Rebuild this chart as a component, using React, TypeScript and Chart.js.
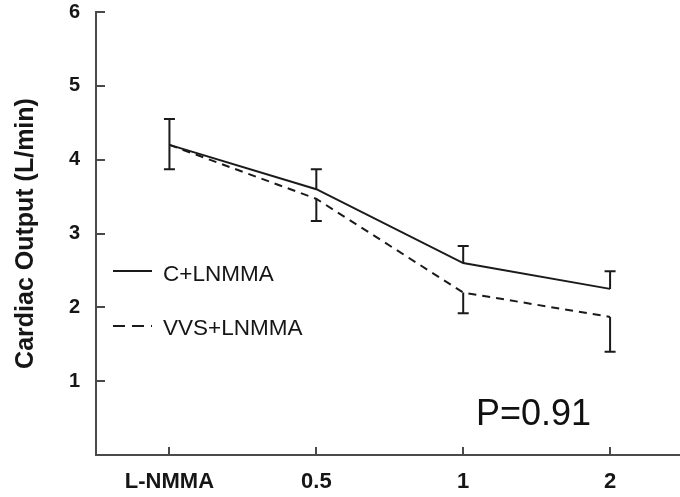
import React, { useEffect, useRef } from "react";
import { Chart, registerables } from "chart.js";

Chart.register(...registerables);

const categories = ["L-NMMA", "0.5", "1", "2"];
const cValues = [4.2, 3.6, 2.6, 2.25];
const cErrors = [0.35, 0.27, 0.23, 0.24];
const vValues = [4.2, 3.47, 2.2, 1.87];
const vErrors = [0.33, 0.3, 0.28, 0.47];
const yTicks = [0, 1, 2, 3, 4, 5, 6];
const seriesLabels = ["C+LNMMA", "VVS+LNMMA"];
const pText = "P=0.91";

const FONT = '"Liberation Sans", Arial, Helvetica, sans-serif';
const LINE = "#1a1a1a";
const AXIS = "#4a4a4a";
const TEXT = "#161616";

const errorBars = {
  id: "errorBars",
  afterDatasetsDraw(chart: any) {
    const { ctx, scales } = chart;
    const xs = scales.x;
    const ys = scales.y;
    chart.data.datasets.forEach((ds: any) => {
      const errs: number[] = ds.errors;
      const dir: number = ds.errorDir;
      ctx.save();
      ctx.strokeStyle = LINE;
      ctx.lineWidth = 2;
      ctx.setLineDash([]);
      ds.data.forEach((p: any, i: number) => {
        const x = xs.getPixelForValue(p.x);
        const y0 = ys.getPixelForValue(p.y);
        const y1 = ys.getPixelForValue(p.y + dir * errs[i]);
        ctx.beginPath();
        ctx.moveTo(x, y0);
        ctx.lineTo(x, y1);
        ctx.moveTo(x - 5.5, y1);
        ctx.lineTo(x + 5.5, y1);
        ctx.stroke();
      });
      ctx.restore();
    });
  },
};

const innerTicks = {
  id: "innerTicks",
  afterDraw(chart: any) {
    const { ctx, scales, chartArea } = chart;
    ctx.save();
    ctx.strokeStyle = AXIS;
    ctx.lineWidth = 2;
    yTicks.forEach((v) => {
      if (v === 0) return;
      const y = Math.round(scales.y.getPixelForValue(v));
      ctx.beginPath();
      ctx.moveTo(chartArea.left, y);
      ctx.lineTo(chartArea.left + 9, y);
      ctx.stroke();
    });
    categories.forEach((_, i) => {
      const x = Math.round(scales.x.getPixelForValue(i));
      ctx.beginPath();
      ctx.moveTo(x, chartArea.bottom);
      ctx.lineTo(x, chartArea.bottom - 8);
      ctx.stroke();
    });
    ctx.restore();
  },
};

const customLegend = {
  id: "customLegend",
  afterDraw(chart: any) {
    const { ctx } = chart;
    const rows = [
      { y: 271, dash: [] as number[], text: seriesLabels[0], ty: 275 },
      { y: 326, dash: [12, 7], text: seriesLabels[1], ty: 329 },
    ];
    ctx.save();
    rows.forEach((r) => {
      ctx.strokeStyle = LINE;
      ctx.lineWidth = 2;
      ctx.setLineDash(r.dash);
      ctx.beginPath();
      ctx.moveTo(113, r.y);
      ctx.lineTo(152, r.y);
      ctx.stroke();
      ctx.setLineDash([]);
      ctx.fillStyle = TEXT;
      ctx.font = `22.5px ${FONT}`;
      ctx.textAlign = "left";
      ctx.textBaseline = "middle";
      ctx.fillText(r.text, 163, r.ty);
    });
    ctx.fillStyle = "#111";
    ctx.font = `36px ${FONT}`;
    ctx.textBaseline = "alphabetic";
    ctx.fillText(pText, 476, 425);
    ctx.restore();
  },
};

export default function App() {
  const ref = useRef<HTMLCanvasElement | null>(null);
  useEffect(() => {
    if (!ref.current) return;
    const chart = new Chart(ref.current, {
      type: "line",
      data: {
        datasets: [
          {
            label: seriesLabels[0],
            data: cValues.map((y, i) => ({ x: i, y })),
            borderColor: LINE,
            borderWidth: 2,
            pointRadius: 0,
            tension: 0,
            fill: false,
            errors: cErrors,
            errorDir: 1,
          } as any,
          {
            label: seriesLabels[1],
            data: vValues.map((y, i) => ({ x: i, y })),
            borderColor: LINE,
            borderWidth: 2,
            borderDash: [8, 6],
            pointRadius: 0,
            tension: 0,
            fill: false,
            errors: vErrors,
            errorDir: -1,
          } as any,
        ],
      },
      options: {
        animation: false,
        responsive: true,
        maintainAspectRatio: false,
        layout: { padding: { top: 12, right: 0, left: 0, bottom: 0 } },
        plugins: {
          legend: { display: false },
          tooltip: { enabled: false },
        },
        scales: {
          x: {
            type: "linear",
            min: -0.5,
            max: 3.476,
            afterBuildTicks: (scale: any) => {
              scale.ticks = categories.map((_, i) => ({ value: i }));
            },
            afterFit: (scale: any) => {
              scale.height = 42;
            },
            grid: {
              display: true,
              drawOnChartArea: false,
              drawTicks: true,
              tickLength: 14,
              color: "rgba(0,0,0,0)",
              tickColor: "rgba(0,0,0,0)",
            },
            border: { display: true, color: AXIS, width: 2 },
            ticks: {
              padding: 0,
              color: TEXT,
              font: { family: FONT, size: 22, weight: "bold" },
              callback: (v: any) => categories[Number(v)] ?? "",
              maxRotation: 0,
              autoSkip: false,
            },
          },
          y: {
            type: "linear",
            min: 0,
            max: 6,
            afterBuildTicks: (scale: any) => {
              scale.ticks = yTicks.map((v) => ({ value: v }));
            },
            afterFit: (scale: any) => {
              scale.width = 96;
            },
            grid: {
              display: true,
              drawOnChartArea: false,
              drawTicks: true,
              tickLength: 16,
              color: "rgba(0,0,0,0)",
              tickColor: "rgba(0,0,0,0)",
            },
            border: { display: true, color: AXIS, width: 2 },
            ticks: {
              padding: 0,
              color: TEXT,
              font: { family: FONT, size: 20, weight: "bold" },
              callback: (v: any) => (Number(v) === 0 ? "" : String(v)),
            },
            title: {
              display: true,
              text: "Cardiac Output (L/min)",
              color: TEXT,
              font: { family: FONT, size: 25, weight: "bold" },
              padding: { top: 11, bottom: 0 },
            },
          },
        },
      },
      plugins: [errorBars, innerTicks, customLegend],
    });
    return () => chart.destroy();
  }, []);
  return (
    <div
      style={{
        position: "fixed",
        left: 0,
        top: 0,
        width: 680,
        height: 497,
        background: "#fff",
      }}
    >
      <canvas ref={ref} />
    </div>
  );
}
